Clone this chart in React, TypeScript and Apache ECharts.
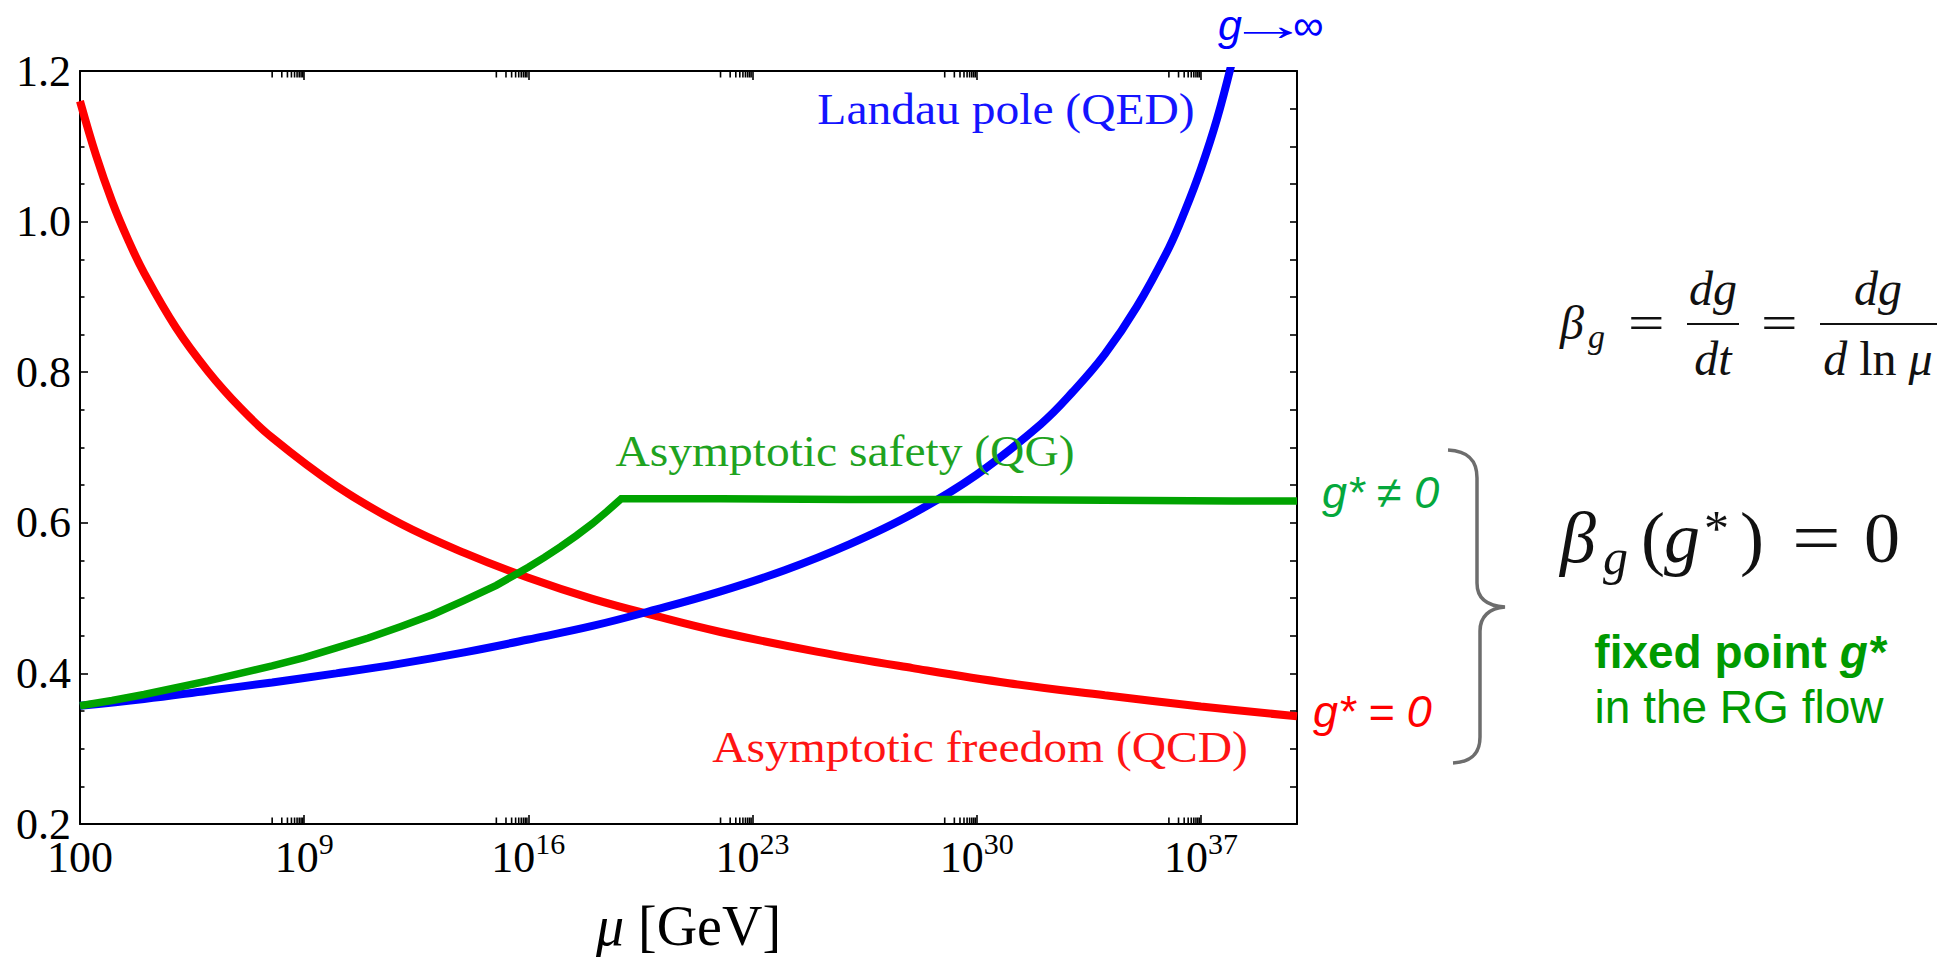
import React, { useEffect, useRef } from "react";
import * as echarts from "echarts";

// ---- data (x values are log10 of the scale mu in GeV) ----
const X_ORIGIN = 2; // left edge of the plot: mu = 100 GeV
const X_SPAN = 38; // up to mu = 1e40 GeV
const xTickExponents = [2, 9, 16, 23, 30, 37];

// Asymptotic freedom (QCD)
const qcdExp = [2, 2.5, 3, 3.5, 4, 5, 6, 7, 8, 10, 12, 14, 16, 18, 20, 22, 25, 28, 31, 34, 37, 40];
const qcdG = [1.16, 1.088, 1.027, 0.976, 0.932, 0.859, 0.801, 0.753, 0.713, 0.649, 0.599, 0.56, 0.527, 0.499, 0.476, 0.455, 0.429, 0.407, 0.387, 0.371, 0.356, 0.343];

// Landau pole (QED)
const qedExp = [2, 4, 6, 8, 10, 12, 14, 16, 18, 20, 22, 24, 26, 28, 30, 32, 33, 34, 35, 36, 36.5, 37, 37.5, 38, 38.3];
const qedG = [0.357, 0.366, 0.377, 0.388, 0.4, 0.413, 0.428, 0.445, 0.463, 0.485, 0.509, 0.537, 0.571, 0.612, 0.664, 0.731, 0.774, 0.824, 0.887, 0.965, 1.014, 1.07, 1.136, 1.217, 1.275];

// Asymptotic safety (QG)
const qgExp = [2, 3, 4, 5, 6, 7, 8, 9, 10, 11, 12, 13, 14, 15, 16, 16.5, 17, 17.5, 18, 18.45, 18.9, 22, 26, 30, 34, 38, 40];
const qgG = [0.357, 0.364, 0.372, 0.381, 0.39, 0.4, 0.41, 0.421, 0.434, 0.447, 0.462, 0.478, 0.497, 0.517, 0.541, 0.554, 0.568, 0.583, 0.599, 0.615, 0.632, 0.632, 0.631, 0.631, 0.63, 0.629, 0.629];

const SERIF = "'Liberation Serif', 'Times New Roman', serif";
const SANS = "'Liberation Sans', Arial, sans-serif";

const BRACE_PATH =
  "M1448 450 C1468 451 1477 460 1477 478 L1477 583 C1477 598 1487 606 1505 607 C1489 608 1480 617 1480 631 L1480 737 C1480 754 1471 762 1453 763";
echarts.graphic.registerShape("brace", echarts.graphic.extendPath(BRACE_PATH, {}));

const toSeries = (xs: number[], ys: number[]) => xs.map((e, i) => [e - X_ORIGIN, ys[i]]);

// minor ticks of the log axis: the decade below each labelled tick
const minorTicks: number[] = [];
xTickExponents.slice(1).forEach((k) => {
  for (let m = 1; m <= 9; m++) minorTicks.push(k - 1 + Math.log10(m) - X_ORIGIN);
});

type TextOpts = {
  x: number;
  baseline: number;
  size: number;
  family?: string;
  align?: "left" | "center" | "right";
  italic?: boolean;
  bold?: boolean;
  color?: string;
  scaleX?: number;
  lineHeight?: number;
  rich?: any;
};

function label(text: string, o: TextOpts) {
  const family = o.family ?? SERIF;
  const central = (family === SANS ? 0.3465 : 0.3375) * o.size;
  return {
    type: "text",
    x: o.x,
    y: o.baseline - central,
    scaleX: o.scaleX ?? 1,
    silent: true,
    z: 10,
    style: {
      text,
      fontSize: o.size,
      fontFamily: family,
      fontStyle: o.italic ? "italic" : "normal",
      fontWeight: o.bold ? "bold" : "normal",
      fill: o.color ?? "#111",
      align: o.align ?? "left",
      verticalAlign: "middle",
      lineHeight: o.lineHeight,
      rich: o.rich,
    },
  };
}

function fractionBar(x1: number, x2: number, y: number) {
  return {
    type: "line",
    silent: true,
    z: 10,
    shape: { x1, y1: y, x2, y2: y },
    style: { stroke: "#111", lineWidth: 1.8 },
  };
}

const axisLineStyle = { color: "#000", width: 2 };
const tickStyle = { color: "#000", width: 1.6 };

export default function App() {
  const ref = useRef<HTMLDivElement>(null);

  useEffect(() => {
    document.body.style.margin = "0";
    if (!ref.current) return;
    const chart = echarts.init(ref.current, undefined, { renderer: "svg" });

    const option: any = {
      animation: false,
      backgroundColor: "#ffffff",
      textStyle: { fontFamily: SERIF },
      grid: { left: 80, top: 71, width: 1217, height: 753, outerBoundsMode: "none" },
      xAxis: [
        {
          type: "value",
          position: "bottom",
          min: 0,
          max: X_SPAN,
          interval: 7,
          axisLine: { show: true, onZero: false, lineStyle: axisLineStyle },
          axisTick: { show: true, inside: true, length: 9, lineStyle: tickStyle },
          splitLine: { show: false },
          axisLabel: {
            margin: 4,
            showMaxLabel: false,
            formatter: (v: number) => {
              const e = Math.round(v + X_ORIGIN);
              return e === 2 ? "{b|100}" : `{b|10}{s|${e}}`;
            },
            rich: {
              b: { fontSize: 44, fontFamily: SERIF, color: "#000", lineHeight: 51, verticalAlign: "bottom" },
              s: { fontSize: 30, fontFamily: SERIF, color: "#000", lineHeight: 30, verticalAlign: "top" },
            },
          },
          name: "{i|μ} [GeV]",
          nameLocation: "middle",
          nameGap: 74,
          nameTextStyle: {
            fontFamily: SERIF,
            fontSize: 56,
            color: "#000",
            rich: { i: { fontFamily: SERIF, fontSize: 56, fontStyle: "italic", color: "#000" } },
          },
        },
        {
          type: "value",
          position: "top",
          min: 0,
          max: X_SPAN,
          interval: 7,
          axisLine: { show: true, onZero: false, lineStyle: axisLineStyle },
          axisTick: { show: true, inside: true, length: 9, lineStyle: tickStyle },
          axisLabel: { show: false },
          splitLine: { show: false },
        },
      ],
      yAxis: [
        {
          type: "value",
          position: "left",
          min: 0.2,
          max: 1.2,
          interval: 0.2,
          axisLine: { show: true, onZero: false, lineStyle: axisLineStyle },
          axisTick: { show: true, inside: true, length: 8, lineStyle: tickStyle },
          minorTick: { show: true, splitNumber: 4, length: 4.5, lineStyle: tickStyle },
          splitLine: { show: false },
          minorSplitLine: { show: false },
          axisLabel: {
            margin: 9,
            fontSize: 44,
            lineHeight: 8,
            fontFamily: SERIF,
            color: "#000",
            formatter: (v: number) => v.toFixed(1),
          },
        },
        {
          type: "value",
          position: "right",
          min: 0.2,
          max: 1.2,
          interval: 0.05,
          axisLine: { show: true, onZero: false, lineStyle: axisLineStyle },
          axisTick: { show: true, inside: true, length: 7, lineStyle: tickStyle },
          axisLabel: { show: false },
          splitLine: { show: false },
        },
      ],
      series: [
        {
          name: "Asymptotic freedom (QCD)",
          type: "line",
          data: toSeries(qcdExp, qcdG),
          smooth: 0.4,
          showSymbol: false,
          symbol: "none",
          lineStyle: { color: "#ff0000", width: 8 },
          z: 3,
        },
        {
          name: "Landau pole (QED)",
          type: "line",
          data: toSeries(qedExp, qedG),
          smooth: 0.4,
          showSymbol: false,
          symbol: "none",
          clip: true,
          lineStyle: { color: "#0000ff", width: 8 },
          z: 4,
        },
        {
          name: "Asymptotic safety (QG)",
          type: "line",
          data: toSeries(qgExp, qgG),
          showSymbol: false,
          symbol: "none",
          lineStyle: { color: "#00a300", width: 7.5, join: "miter" },
          z: 5,
        },
        {
          name: "minor ticks",
          type: "custom",
          silent: true,
          clip: false,
          z: 6,
          data: minorTicks.map((v) => [v, 0.2]),
          renderItem: (_params: any, api: any) => {
            const x = api.value(0);
            const pb = api.coord([x, 0.2]);
            const pt = api.coord([x, 1.2]);
            return {
              type: "group",
              children: [
                { type: "line", shape: { x1: pb[0], y1: pb[1], x2: pb[0], y2: pb[1] - 6.5 }, style: { stroke: "#000", lineWidth: 1.6 } },
                { type: "line", shape: { x1: pt[0], y1: pt[1], x2: pt[0], y2: pt[1] + 6.5 }, style: { stroke: "#000", lineWidth: 1.6 } },
              ],
            };
          },
        },
      ],
      graphic: [
        // curve names
        label("Landau pole (QED)", { x: 1006, baseline: 124, size: 44, align: "center", color: "#1414ff", scaleX: 1.08 }),
        label("Asymptotic safety (QG)", { x: 845, baseline: 466, size: 44, align: "center", color: "#1fa31f", scaleX: 1.08 }),
        label("Asymptotic freedom (QCD)", { x: 980, baseline: 762, size: 44, align: "center", color: "#ff1414", scaleX: 1.08 }),

        // pole annotation: g -> infinity
        label("g", { x: 1218, baseline: 40, size: 43, family: SANS, italic: true, color: "#0000ff", lineHeight: 30 }),
        label("→", { x: 1268, baseline: 40, size: 43, family: SANS, align: "center", color: "#0000ff", lineHeight: 30, scaleX: 1.9 }),
        label("∞", { x: 1293, baseline: 40, size: 43, family: SANS, color: "#0000ff", lineHeight: 30 }),

        // fixed-point annotations
        label("g* ≠ 0", { x: 1322, baseline: 508, size: 45, family: SANS, italic: true, color: "#05a83c" }),
        label("g* = 0", { x: 1313, baseline: 727, size: 45, family: SANS, italic: true, color: "#ff0000" }),

        // brace grouping the two fixed points
        { type: "brace", x: 0, y: 0, silent: true, z: 10, style: { fill: "none", stroke: "#6d6d6d", lineWidth: 3.5 } },

        // beta function definition
        label("β", { x: 1560, baseline: 339, size: 48, italic: true }),
        label("g", { x: 1588, baseline: 348, size: 34, italic: true }),
        label("=", { x: 1628, baseline: 339, size: 48, scaleX: 1.35 }),
        label("dg", { x: 1713, baseline: 305, size: 48, italic: true, align: "center" }),
        fractionBar(1687, 1739, 324),
        label("dt", { x: 1713, baseline: 375, size: 48, italic: true, align: "center" }),
        label("=", { x: 1761, baseline: 339, size: 48, scaleX: 1.35 }),
        label("dg", { x: 1878, baseline: 305, size: 48, italic: true, align: "center" }),
        fractionBar(1820, 1937, 324),
        label("{i|d} {r|ln} {i|μ}", {
          x: 1878,
          baseline: 375,
          size: 48,
          align: "center",
          rich: {
            i: { fontFamily: SERIF, fontSize: 48, fontStyle: "italic", fill: "#111" },
            r: { fontFamily: SERIF, fontSize: 48, fill: "#111" },
          },
        }),

        // fixed-point condition
        label("β", { x: 1560, baseline: 562, size: 72, italic: true }),
        label("g", { x: 1603, baseline: 574, size: 50, italic: true }),
        label("(", { x: 1641, baseline: 562, size: 72 }),
        label("g", { x: 1664, baseline: 562, size: 72, italic: true }),
        label("*", { x: 1704, baseline: 545, size: 50 }),
        label(")", { x: 1740, baseline: 562, size: 72 }),
        label("=", { x: 1792, baseline: 562, size: 72, scaleX: 1.2 }),
        label("0", { x: 1864, baseline: 562, size: 72 }),

        label("{b|fixed point }{bi|g*}", {
          x: 1740,
          baseline: 668,
          size: 46,
          family: SANS,
          align: "center",
          rich: {
            b: { fontFamily: SANS, fontSize: 46, fontWeight: "bold", fill: "#009a00" },
            bi: { fontFamily: SANS, fontSize: 46, fontWeight: "bold", fontStyle: "italic", fill: "#009a00" },
          },
        }),
        label("in the RG flow", { x: 1739, baseline: 723, size: 46, family: SANS, align: "center", color: "#009a00" }),
      ],
    };

    chart.setOption(option);
    return () => chart.dispose();
  }, []);

  return <div ref={ref} style={{ width: 1955, height: 959 }} />;
}
